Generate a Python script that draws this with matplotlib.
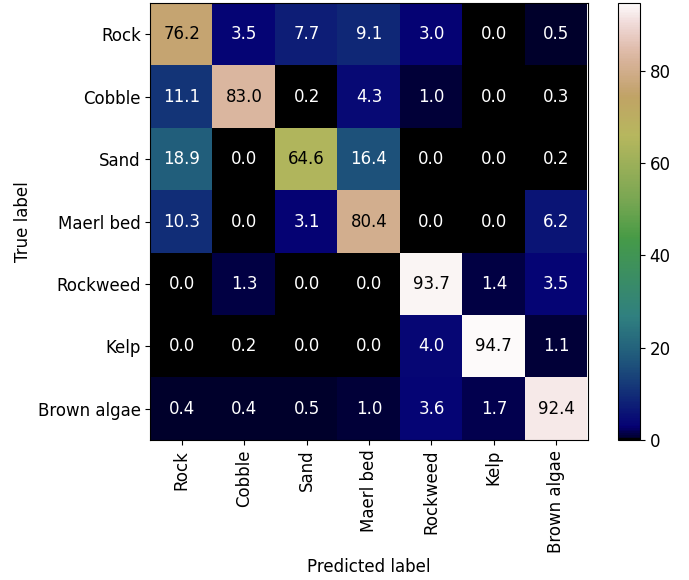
import matplotlib
matplotlib.use('Agg')
import matplotlib.pyplot as plt
import numpy as np

labels = ['Rock', 'Cobble', 'Sand', 'Maerl bed', 'Rockweed', 'Kelp', 'Brown algae']
rock = [76.2, 3.5, 7.7, 9.1, 3.0, 0.0, 0.5]
cobble = [11.1, 83.0, 0.2, 4.3, 1.0, 0.0, 0.3]
sand = [18.9, 0.0, 64.6, 16.4, 0.0, 0.0, 0.2]
maerl = [10.3, 0.0, 3.1, 80.4, 0.0, 0.0, 6.2]
rockweed = [0.0, 1.3, 0.0, 0.0, 93.7, 1.4, 3.5]
kelp = [0.0, 0.2, 0.0, 0.0, 4.0, 94.7, 1.1]
brown = [0.4, 0.4, 0.5, 1.0, 3.6, 1.7, 92.4]

cm = np.array([rock, cobble, sand, maerl, rockweed, kelp, brown])

plt.rcParams['font.size'] = 12
fig = plt.figure(figsize=(6.89, 5.8), dpi=100)
ax = fig.add_axes([150/689, 140/580, 438/689, 437/580])
cax = fig.add_axes([618/689, 140/580, 22/689, 437/580])

im = ax.imshow(cm, cmap='gist_earth', vmin=cm.min(), vmax=cm.max())
thresh = (cm.max() + cm.min()) / 2
for i in range(cm.shape[0]):
    for j in range(cm.shape[1]):
        col = 'black' if cm[i, j] > thresh else 'white'
        ax.text(j, i, f'{cm[i, j]:.1f}', ha='center', va='center', color=col, fontsize=12)

ax.set_xticks(range(len(labels)))
ax.set_yticks(range(len(labels)))
ax.set_xticklabels(labels, rotation=90)
ax.set_yticklabels(labels)
ax.set_xlabel('Predicted label')
ax.set_ylabel('True label')

fig.colorbar(im, cax=cax)
fig.savefig('out.png', dpi=100)
